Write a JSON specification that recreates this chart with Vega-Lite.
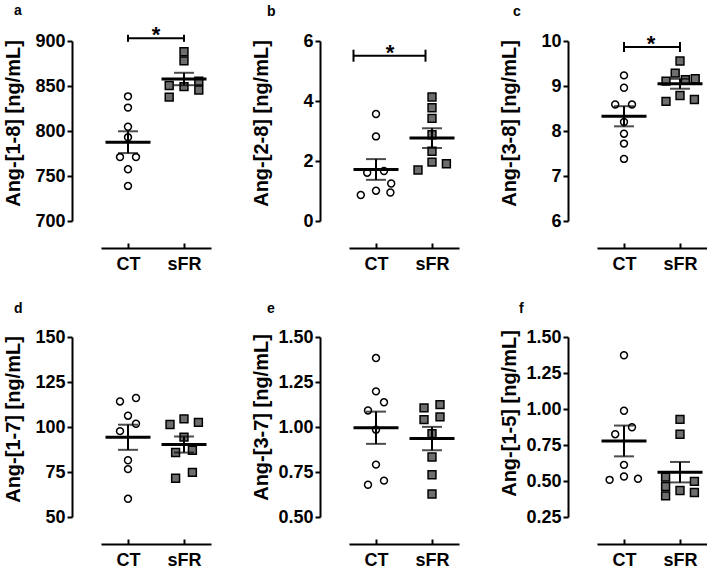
{
"$schema": "https://vega.github.io/schema/vega-lite/v6.json",
"background": "white",
"padding": {"left": 3, "top": 4, "right": 0, "bottom": 0},
"columns": 3,
"spacing": {"column": 40, "row": 29},
"resolve": {"scale": {"x": "independent", "y": "independent"}},
"config": {
 "view": {"stroke": null},
 "font": "Liberation Sans",
 "axis": {"domainColor": "black", "domainWidth": 2, "tickColor": "black", "tickWidth": 2, "labelColor": "black", "labelFont": "Liberation Sans", "labelFontWeight": "bold", "labelFontSize": 18, "titleColor": "black", "titleFont": "Liberation Sans", "titleFontWeight": "bold", "titleFontSize": 20, "grid": false, "labelFlush": false, "labelOverlap": false, "labelBound": false},
 "axisX": {"offset": 27, "tickSize": -5, "labelPadding": 12, "labelAngle": 0},
 "axisY": {"offset": 29, "tickSize": 5, "labelPadding": 2, "titleX": -49, "titleY": 82, "tickCount": 10},
 "title": {"anchor": "start", "frame": "group", "fontSize": 14, "fontWeight": "bold", "color": "black", "font": "Liberation Sans", "offset": 12},
 "legend": {"disable": true}
},
"datasets": {
 "pts": [
  {"p": "a", "g": "CT", "v": 838.5, "d": 0}, {"p": "a", "g": "CT", "v": 826, "d": 0}, {"p": "a", "g": "CT", "v": 804.7, "d": 0}, {"p": "a", "g": "CT", "v": 793, "d": 0},
  {"p": "a", "g": "CT", "v": 771, "d": -1}, {"p": "a", "g": "CT", "v": 771, "d": 1}, {"p": "a", "g": "CT", "v": 757.4, "d": 0}, {"p": "a", "g": "CT", "v": 739, "d": 0},
  {"p": "a", "g": "sFR", "v": 888, "d": 0}, {"p": "a", "g": "sFR", "v": 877.9, "d": 0}, {"p": "a", "g": "sFR", "v": 855.4, "d": 1.85}, {"p": "a", "g": "sFR", "v": 850.5, "d": -1.85},
  {"p": "a", "g": "sFR", "v": 849.3, "d": 0}, {"p": "a", "g": "sFR", "v": 845.6, "d": 1.85}, {"p": "a", "g": "sFR", "v": 837.7, "d": -1.85},
  {"p": "b", "g": "CT", "v": 3.566, "d": 0}, {"p": "b", "g": "CT", "v": 2.82, "d": 0}, {"p": "b", "g": "CT", "v": 1.61, "d": -1.1}, {"p": "b", "g": "CT", "v": 1.668, "d": 1},
  {"p": "b", "g": "CT", "v": 1.25, "d": 1.9}, {"p": "b", "g": "CT", "v": 1.01, "d": 0}, {"p": "b", "g": "CT", "v": 0.95, "d": 1.8}, {"p": "b", "g": "CT", "v": 0.868, "d": -1.9},
  {"p": "b", "g": "sFR", "v": 4.135, "d": 0}, {"p": "b", "g": "sFR", "v": 3.773, "d": 0}, {"p": "b", "g": "sFR", "v": 3.42, "d": 0}, {"p": "b", "g": "sFR", "v": 2.875, "d": 0},
  {"p": "b", "g": "sFR", "v": 2.326, "d": 0}, {"p": "b", "g": "sFR", "v": 1.964, "d": 0}, {"p": "b", "g": "sFR", "v": 1.908, "d": 1.8}, {"p": "b", "g": "sFR", "v": 1.70, "d": -1.75},
  {"p": "c", "g": "CT", "v": 9.236, "d": 0}, {"p": "c", "g": "CT", "v": 8.962, "d": 0}, {"p": "c", "g": "CT", "v": 8.59, "d": -1.1}, {"p": "c", "g": "CT", "v": 8.59, "d": 1},
  {"p": "c", "g": "CT", "v": 8.2, "d": 0}, {"p": "c", "g": "CT", "v": 7.94, "d": 0}, {"p": "c", "g": "CT", "v": 7.72, "d": 0}, {"p": "c", "g": "CT", "v": 7.38, "d": 0},
  {"p": "c", "g": "sFR", "v": 9.555, "d": 0}, {"p": "c", "g": "sFR", "v": 9.287, "d": -0.6}, {"p": "c", "g": "sFR", "v": 9.109, "d": -1.75}, {"p": "c", "g": "sFR", "v": 9.14, "d": 0.67},
  {"p": "c", "g": "sFR", "v": 9.16, "d": 1.9}, {"p": "c", "g": "sFR", "v": 8.79, "d": 0}, {"p": "c", "g": "sFR", "v": 8.657, "d": -1.75}, {"p": "c", "g": "sFR", "v": 8.70, "d": 1.8},
  {"p": "d", "g": "CT", "v": 114.2, "d": -1}, {"p": "d", "g": "CT", "v": 116.1, "d": 1}, {"p": "d", "g": "CT", "v": 106.3, "d": 0}, {"p": "d", "g": "CT", "v": 101.8, "d": 1},
  {"p": "d", "g": "CT", "v": 97.7, "d": -1}, {"p": "d", "g": "CT", "v": 81.55, "d": 0}, {"p": "d", "g": "CT", "v": 76.6, "d": 0}, {"p": "d", "g": "CT", "v": 60.1, "d": 0},
  {"p": "d", "g": "sFR", "v": 101.4, "d": -1.75}, {"p": "d", "g": "sFR", "v": 104.5, "d": 0}, {"p": "d", "g": "sFR", "v": 102.6, "d": 1.8}, {"p": "d", "g": "sFR", "v": 94.4, "d": 0},
  {"p": "d", "g": "sFR", "v": 85.8, "d": -1.05}, {"p": "d", "g": "sFR", "v": 87.06, "d": 1.05}, {"p": "d", "g": "sFR", "v": 74.8, "d": 1.05}, {"p": "d", "g": "sFR", "v": 71.5, "d": -1.05},
  {"p": "e", "g": "CT", "v": 1.383, "d": 0}, {"p": "e", "g": "CT", "v": 1.198, "d": 0}, {"p": "e", "g": "CT", "v": 1.137, "d": 1}, {"p": "e", "g": "CT", "v": 1.092, "d": -1},
  {"p": "e", "g": "CT", "v": 0.985, "d": 0}, {"p": "e", "g": "CT", "v": 0.791, "d": 0}, {"p": "e", "g": "CT", "v": 0.702, "d": 1}, {"p": "e", "g": "CT", "v": 0.679, "d": -1},
  {"p": "e", "g": "sFR", "v": 1.106, "d": -1}, {"p": "e", "g": "sFR", "v": 1.124, "d": 1}, {"p": "e", "g": "sFR", "v": 1.041, "d": -1}, {"p": "e", "g": "sFR", "v": 1.056, "d": 1},
  {"p": "e", "g": "sFR", "v": 0.963, "d": 0}, {"p": "e", "g": "sFR", "v": 0.833, "d": 0}, {"p": "e", "g": "sFR", "v": 0.735, "d": 0}, {"p": "e", "g": "sFR", "v": 0.628, "d": 0},
  {"p": "f", "g": "CT", "v": 1.373, "d": 0}, {"p": "f", "g": "CT", "v": 0.988, "d": 0}, {"p": "f", "g": "CT", "v": 0.873, "d": 1}, {"p": "f", "g": "CT", "v": 0.825, "d": -1.1},
  {"p": "f", "g": "CT", "v": 0.612, "d": 0}, {"p": "f", "g": "CT", "v": 0.531, "d": 0}, {"p": "f", "g": "CT", "v": 0.508, "d": -1.8}, {"p": "f", "g": "CT", "v": 0.515, "d": 1.75},
  {"p": "f", "g": "sFR", "v": 0.928, "d": 0}, {"p": "f", "g": "sFR", "v": 0.825, "d": 0}, {"p": "f", "g": "sFR", "v": 0.527, "d": -1.8}, {"p": "f", "g": "sFR", "v": 0.462, "d": -1.8},
  {"p": "f", "g": "sFR", "v": 0.397, "d": -1.8}, {"p": "f", "g": "sFR", "v": 0.434, "d": 0}, {"p": "f", "g": "sFR", "v": 0.497, "d": 1.8}, {"p": "f", "g": "sFR", "v": 0.42, "d": 1.8}
 ],
 "brk": [
  {"p": "a", "g": "CT", "g2": "sFR", "v": 903},
  {"p": "b", "g": "CT", "g2": "sFR", "v": 5.51},
  {"p": "c", "g": "CT", "g2": "sFR", "v": 9.866}
 ]
},
"concat": [
 {"width": 110, "height": 180, "title": {"text": "a", "dx": -87, "offset": 6},
  "layer": [
   {"data": {"name": "pts"}, "transform": [{"filter": "datum.p === 'a'"}],
    "mark": {"type": "point", "filled": true, "stroke": "black", "strokeWidth": 1.5, "opacity": 1},
    "encoding": {
     "x": {"field": "g", "type": "nominal", "title": null, "scale": {"type": "point", "domain": ["CT", "sFR"], "padding": 0.482}},
     "xOffset": {"field": "d", "type": "quantitative", "scale": {"domain": [-2, 2], "range": [-16, 16]}},
     "y": {"field": "v", "type": "quantitative", "title": "Ang-[1-8] [ng/mL]", "scale": {"domain": [700, 900], "nice": false, "zero": false}, "axis": {"values": [700, 750, 800, 850, 900], "format": "d"}},
     "shape": {"field": "g", "type": "nominal", "scale": {"domain": ["CT", "sFR"], "range": ["circle", "square"]}, "legend": null},
     "fill": {"field": "g", "type": "nominal", "scale": {"domain": ["CT", "sFR"], "range": ["white", "#6e6e6e"]}, "legend": null},
     "size": {"field": "g", "type": "ordinal", "scale": {"domain": ["CT", "sFR"], "range": [48, 62]}, "legend": null}}},
   {"data": {"name": "pts"}, "transform": [{"filter": "datum.p === 'a'"}],
    "mark": {"type": "tick", "size": 45, "thickness": 3, "color": "black", "opacity": 1},
    "encoding": {"x": {"field": "g", "type": "nominal", "title": null}, "y": {"field": "v", "aggregate": "mean", "type": "quantitative", "title": "Ang-[1-8] [ng/mL]"}}},
   {"data": {"name": "pts"}, "transform": [{"filter": "datum.p === 'a'"}],
    "mark": {"type": "errorbar", "extent": "stderr", "ticks": true, "size": 20, "thickness": 2, "color": "black"},
    "encoding": {"x": {"field": "g", "type": "nominal", "title": null}, "y": {"field": "v", "type": "quantitative", "title": "Ang-[1-8] [ng/mL]"}}},
   {"data": {"name": "brk"}, "transform": [{"filter": "datum.p === 'a'"}],
    "mark": {"type": "rule", "strokeWidth": 2, "color": "black"},
    "encoding": {"x": {"field": "g", "type": "nominal", "title": null}, "x2": {"field": "g2"}, "y": {"field": "v", "type": "quantitative", "title": "Ang-[1-8] [ng/mL]"}}},
   {"data": {"name": "brk"}, "transform": [{"filter": "datum.p === 'a'"}],
    "mark": {"type": "tick", "orient": "vertical", "size": 7, "thickness": 2, "color": "black", "opacity": 1},
    "encoding": {"x": {"field": "g", "type": "nominal", "title": null}, "y": {"field": "v", "type": "quantitative", "title": "Ang-[1-8] [ng/mL]"}}},
   {"data": {"name": "brk"}, "transform": [{"filter": "datum.p === 'a'"}],
    "mark": {"type": "tick", "orient": "vertical", "size": 7, "thickness": 2, "color": "black", "opacity": 1},
    "encoding": {"x": {"field": "g2", "type": "nominal", "title": null}, "y": {"field": "v", "type": "quantitative", "title": "Ang-[1-8] [ng/mL]"}}},
   {"data": {"name": "brk"}, "transform": [{"filter": "datum.p === 'a'"}],
    "mark": {"type": "text", "text": "*", "fontSize": 22, "fontWeight": "bold", "dx": 28, "dy": 4, "baseline": "alphabetic", "align": "center", "color": "black"},
    "encoding": {"x": {"field": "g", "type": "nominal", "title": null}, "y": {"field": "v", "type": "quantitative", "title": "Ang-[1-8] [ng/mL]"}}}
  ]},
 {"width": 110, "height": 180, "title": {"text": "b", "dx": -82, "offset": 13},
  "layer": [
   {"data": {"name": "pts"}, "transform": [{"filter": "datum.p === 'b'"}],
    "mark": {"type": "point", "filled": true, "stroke": "black", "strokeWidth": 1.5, "opacity": 1},
    "encoding": {
     "x": {"field": "g", "type": "nominal", "title": null, "scale": {"type": "point", "domain": ["CT", "sFR"], "padding": 0.482}},
     "xOffset": {"field": "d", "type": "quantitative", "scale": {"domain": [-2, 2], "range": [-16, 16]}},
     "y": {"field": "v", "type": "quantitative", "title": "Ang-[2-8] [ng/mL]", "scale": {"domain": [0, 6], "nice": false}, "axis": {"values": [0, 2, 4, 6], "format": "d"}},
     "shape": {"field": "g", "type": "nominal", "scale": {"domain": ["CT", "sFR"], "range": ["circle", "square"]}, "legend": null},
     "fill": {"field": "g", "type": "nominal", "scale": {"domain": ["CT", "sFR"], "range": ["white", "#6e6e6e"]}, "legend": null},
     "size": {"field": "g", "type": "ordinal", "scale": {"domain": ["CT", "sFR"], "range": [48, 62]}, "legend": null}}},
   {"data": {"name": "pts"}, "transform": [{"filter": "datum.p === 'b'"}],
    "mark": {"type": "tick", "size": 45, "thickness": 3, "color": "black", "opacity": 1},
    "encoding": {"x": {"field": "g", "type": "nominal", "title": null}, "y": {"field": "v", "aggregate": "mean", "type": "quantitative", "title": "Ang-[2-8] [ng/mL]"}}},
   {"data": {"name": "pts"}, "transform": [{"filter": "datum.p === 'b'"}],
    "mark": {"type": "errorbar", "extent": "stderr", "ticks": true, "size": 20, "thickness": 2, "color": "black"},
    "encoding": {"x": {"field": "g", "type": "nominal", "title": null}, "y": {"field": "v", "type": "quantitative", "title": "Ang-[2-8] [ng/mL]"}}},
   {"data": {"name": "brk"}, "transform": [{"filter": "datum.p === 'b'"}],
    "mark": {"type": "rule", "strokeWidth": 2, "color": "black", "xOffset": -22.5, "x2Offset": -6.5},
    "encoding": {"x": {"field": "g", "type": "nominal", "title": null}, "x2": {"field": "g2"}, "y": {"field": "v", "type": "quantitative", "title": "Ang-[2-8] [ng/mL]"}}},
   {"data": {"name": "brk"}, "transform": [{"filter": "datum.p === 'b'"}],
    "mark": {"type": "tick", "orient": "vertical", "size": 12, "thickness": 2, "color": "black", "opacity": 1, "xOffset": -22.5},
    "encoding": {"x": {"field": "g", "type": "nominal", "title": null}, "y": {"field": "v", "type": "quantitative", "title": "Ang-[2-8] [ng/mL]"}}},
   {"data": {"name": "brk"}, "transform": [{"filter": "datum.p === 'b'"}],
    "mark": {"type": "tick", "orient": "vertical", "size": 12, "thickness": 2, "color": "black", "opacity": 1, "xOffset": -6.5},
    "encoding": {"x": {"field": "g2", "type": "nominal", "title": null}, "y": {"field": "v", "type": "quantitative", "title": "Ang-[2-8] [ng/mL]"}}},
   {"data": {"name": "brk"}, "transform": [{"filter": "datum.p === 'b'"}],
    "mark": {"type": "text", "text": "*", "fontSize": 22, "fontWeight": "bold", "dx": 14, "dy": 4, "baseline": "alphabetic", "align": "center", "color": "black"},
    "encoding": {"x": {"field": "g", "type": "nominal", "title": null}, "y": {"field": "v", "type": "quantitative", "title": "Ang-[2-8] [ng/mL]"}}}
  ]},
 {"width": 110, "height": 180, "title": {"text": "c", "dx": -84, "offset": 13},
  "layer": [
   {"data": {"name": "pts"}, "transform": [{"filter": "datum.p === 'c'"}],
    "mark": {"type": "point", "filled": true, "stroke": "black", "strokeWidth": 1.5, "opacity": 1},
    "encoding": {
     "x": {"field": "g", "type": "nominal", "title": null, "scale": {"type": "point", "domain": ["CT", "sFR"], "padding": 0.482}},
     "xOffset": {"field": "d", "type": "quantitative", "scale": {"domain": [-2, 2], "range": [-16, 16]}},
     "y": {"field": "v", "type": "quantitative", "title": "Ang-[3-8] [ng/mL]", "scale": {"domain": [6, 10], "nice": false, "zero": false}, "axis": {"values": [6, 7, 8, 9, 10], "format": "d"}},
     "shape": {"field": "g", "type": "nominal", "scale": {"domain": ["CT", "sFR"], "range": ["circle", "square"]}, "legend": null},
     "fill": {"field": "g", "type": "nominal", "scale": {"domain": ["CT", "sFR"], "range": ["white", "#6e6e6e"]}, "legend": null},
     "size": {"field": "g", "type": "ordinal", "scale": {"domain": ["CT", "sFR"], "range": [48, 62]}, "legend": null}}},
   {"data": {"name": "pts"}, "transform": [{"filter": "datum.p === 'c'"}],
    "mark": {"type": "tick", "size": 45, "thickness": 3, "color": "black", "opacity": 1},
    "encoding": {"x": {"field": "g", "type": "nominal", "title": null}, "y": {"field": "v", "aggregate": "mean", "type": "quantitative", "title": "Ang-[3-8] [ng/mL]"}}},
   {"data": {"name": "pts"}, "transform": [{"filter": "datum.p === 'c'"}],
    "mark": {"type": "errorbar", "extent": "stderr", "ticks": true, "size": 20, "thickness": 2, "color": "black"},
    "encoding": {"x": {"field": "g", "type": "nominal", "title": null}, "y": {"field": "v", "type": "quantitative", "title": "Ang-[3-8] [ng/mL]"}}},
   {"data": {"name": "brk"}, "transform": [{"filter": "datum.p === 'c'"}],
    "mark": {"type": "rule", "strokeWidth": 2, "color": "black"},
    "encoding": {"x": {"field": "g", "type": "nominal", "title": null}, "x2": {"field": "g2"}, "y": {"field": "v", "type": "quantitative", "title": "Ang-[3-8] [ng/mL]"}}},
   {"data": {"name": "brk"}, "transform": [{"filter": "datum.p === 'c'"}],
    "mark": {"type": "tick", "orient": "vertical", "size": 10, "thickness": 2, "color": "black", "opacity": 1},
    "encoding": {"x": {"field": "g", "type": "nominal", "title": null}, "y": {"field": "v", "type": "quantitative", "title": "Ang-[3-8] [ng/mL]"}}},
   {"data": {"name": "brk"}, "transform": [{"filter": "datum.p === 'c'"}],
    "mark": {"type": "tick", "orient": "vertical", "size": 10, "thickness": 2, "color": "black", "opacity": 1},
    "encoding": {"x": {"field": "g2", "type": "nominal", "title": null}, "y": {"field": "v", "type": "quantitative", "title": "Ang-[3-8] [ng/mL]"}}},
   {"data": {"name": "brk"}, "transform": [{"filter": "datum.p === 'c'"}],
    "mark": {"type": "text", "text": "*", "fontSize": 22, "fontWeight": "bold", "dx": 27, "dy": 4, "baseline": "alphabetic", "align": "center", "color": "black"},
    "encoding": {"x": {"field": "g", "type": "nominal", "title": null}, "y": {"field": "v", "type": "quantitative", "title": "Ang-[3-8] [ng/mL]"}}}
  ]},
 {"width": 110, "height": 180, "title": {"text": "d", "dx": -87},
  "layer": [
   {"data": {"name": "pts"}, "transform": [{"filter": "datum.p === 'd'"}],
    "mark": {"type": "point", "filled": true, "stroke": "black", "strokeWidth": 1.5, "opacity": 1},
    "encoding": {
     "x": {"field": "g", "type": "nominal", "title": null, "scale": {"type": "point", "domain": ["CT", "sFR"], "padding": 0.482}},
     "xOffset": {"field": "d", "type": "quantitative", "scale": {"domain": [-2, 2], "range": [-16, 16]}},
     "y": {"field": "v", "type": "quantitative", "title": "Ang-[1-7] [ng/mL]", "scale": {"domain": [50, 150], "nice": false, "zero": false}, "axis": {"values": [50, 75, 100, 125, 150], "format": "d"}},
     "shape": {"field": "g", "type": "nominal", "scale": {"domain": ["CT", "sFR"], "range": ["circle", "square"]}, "legend": null},
     "fill": {"field": "g", "type": "nominal", "scale": {"domain": ["CT", "sFR"], "range": ["white", "#6e6e6e"]}, "legend": null},
     "size": {"field": "g", "type": "ordinal", "scale": {"domain": ["CT", "sFR"], "range": [48, 62]}, "legend": null}}},
   {"data": {"name": "pts"}, "transform": [{"filter": "datum.p === 'd'"}],
    "mark": {"type": "tick", "size": 45, "thickness": 3, "color": "black", "opacity": 1},
    "encoding": {"x": {"field": "g", "type": "nominal", "title": null}, "y": {"field": "v", "aggregate": "mean", "type": "quantitative", "title": "Ang-[1-7] [ng/mL]"}}},
   {"data": {"name": "pts"}, "transform": [{"filter": "datum.p === 'd'"}],
    "mark": {"type": "errorbar", "extent": "stderr", "ticks": true, "size": 20, "thickness": 2, "color": "black"},
    "encoding": {"x": {"field": "g", "type": "nominal", "title": null}, "y": {"field": "v", "type": "quantitative", "title": "Ang-[1-7] [ng/mL]"}}}
  ]},
 {"width": 110, "height": 180, "title": {"text": "e", "dx": -82},
  "layer": [
   {"data": {"name": "pts"}, "transform": [{"filter": "datum.p === 'e'"}],
    "mark": {"type": "point", "filled": true, "stroke": "black", "strokeWidth": 1.5, "opacity": 1},
    "encoding": {
     "x": {"field": "g", "type": "nominal", "title": null, "scale": {"type": "point", "domain": ["CT", "sFR"], "padding": 0.482}},
     "xOffset": {"field": "d", "type": "quantitative", "scale": {"domain": [-2, 2], "range": [-16, 16]}},
     "y": {"field": "v", "type": "quantitative", "title": "Ang-[3-7] [ng/mL]", "scale": {"domain": [0.5, 1.5], "nice": false, "zero": false}, "axis": {"values": [0.5, 0.75, 1, 1.25, 1.5], "format": ".2f", "titleY": 80}},
     "shape": {"field": "g", "type": "nominal", "scale": {"domain": ["CT", "sFR"], "range": ["circle", "square"]}, "legend": null},
     "fill": {"field": "g", "type": "nominal", "scale": {"domain": ["CT", "sFR"], "range": ["white", "#6e6e6e"]}, "legend": null},
     "size": {"field": "g", "type": "ordinal", "scale": {"domain": ["CT", "sFR"], "range": [48, 62]}, "legend": null}}},
   {"data": {"name": "pts"}, "transform": [{"filter": "datum.p === 'e'"}],
    "mark": {"type": "tick", "size": 45, "thickness": 3, "color": "black", "opacity": 1},
    "encoding": {"x": {"field": "g", "type": "nominal", "title": null}, "y": {"field": "v", "aggregate": "mean", "type": "quantitative", "title": "Ang-[3-7] [ng/mL]"}}},
   {"data": {"name": "pts"}, "transform": [{"filter": "datum.p === 'e'"}],
    "mark": {"type": "errorbar", "extent": "stderr", "ticks": true, "size": 20, "thickness": 2, "color": "black"},
    "encoding": {"x": {"field": "g", "type": "nominal", "title": null}, "y": {"field": "v", "type": "quantitative", "title": "Ang-[3-7] [ng/mL]"}}}
  ]},
 {"width": 110, "height": 180, "title": {"text": "f", "dx": -78},
  "layer": [
   {"data": {"name": "pts"}, "transform": [{"filter": "datum.p === 'f'"}],
    "mark": {"type": "point", "filled": true, "stroke": "black", "strokeWidth": 1.5, "opacity": 1},
    "encoding": {
     "x": {"field": "g", "type": "nominal", "title": null, "scale": {"type": "point", "domain": ["CT", "sFR"], "padding": 0.482}},
     "xOffset": {"field": "d", "type": "quantitative", "scale": {"domain": [-2, 2], "range": [-16, 16]}},
     "y": {"field": "v", "type": "quantitative", "title": "Ang-[1-5] [ng/mL]", "scale": {"domain": [0.25, 1.5], "nice": false, "zero": false}, "axis": {"values": [0.25, 0.5, 0.75, 1, 1.25, 1.5], "format": ".2f", "titleY": 76}},
     "shape": {"field": "g", "type": "nominal", "scale": {"domain": ["CT", "sFR"], "range": ["circle", "square"]}, "legend": null},
     "fill": {"field": "g", "type": "nominal", "scale": {"domain": ["CT", "sFR"], "range": ["white", "#6e6e6e"]}, "legend": null},
     "size": {"field": "g", "type": "ordinal", "scale": {"domain": ["CT", "sFR"], "range": [48, 62]}, "legend": null}}},
   {"data": {"name": "pts"}, "transform": [{"filter": "datum.p === 'f'"}],
    "mark": {"type": "tick", "size": 45, "thickness": 3, "color": "black", "opacity": 1},
    "encoding": {"x": {"field": "g", "type": "nominal", "title": null}, "y": {"field": "v", "aggregate": "mean", "type": "quantitative", "title": "Ang-[1-5] [ng/mL]"}}},
   {"data": {"name": "pts"}, "transform": [{"filter": "datum.p === 'f'"}],
    "mark": {"type": "errorbar", "extent": "stderr", "ticks": true, "size": 20, "thickness": 2, "color": "black"},
    "encoding": {"x": {"field": "g", "type": "nominal", "title": null}, "y": {"field": "v", "type": "quantitative", "title": "Ang-[1-5] [ng/mL]"}}}
  ]}
]
}
